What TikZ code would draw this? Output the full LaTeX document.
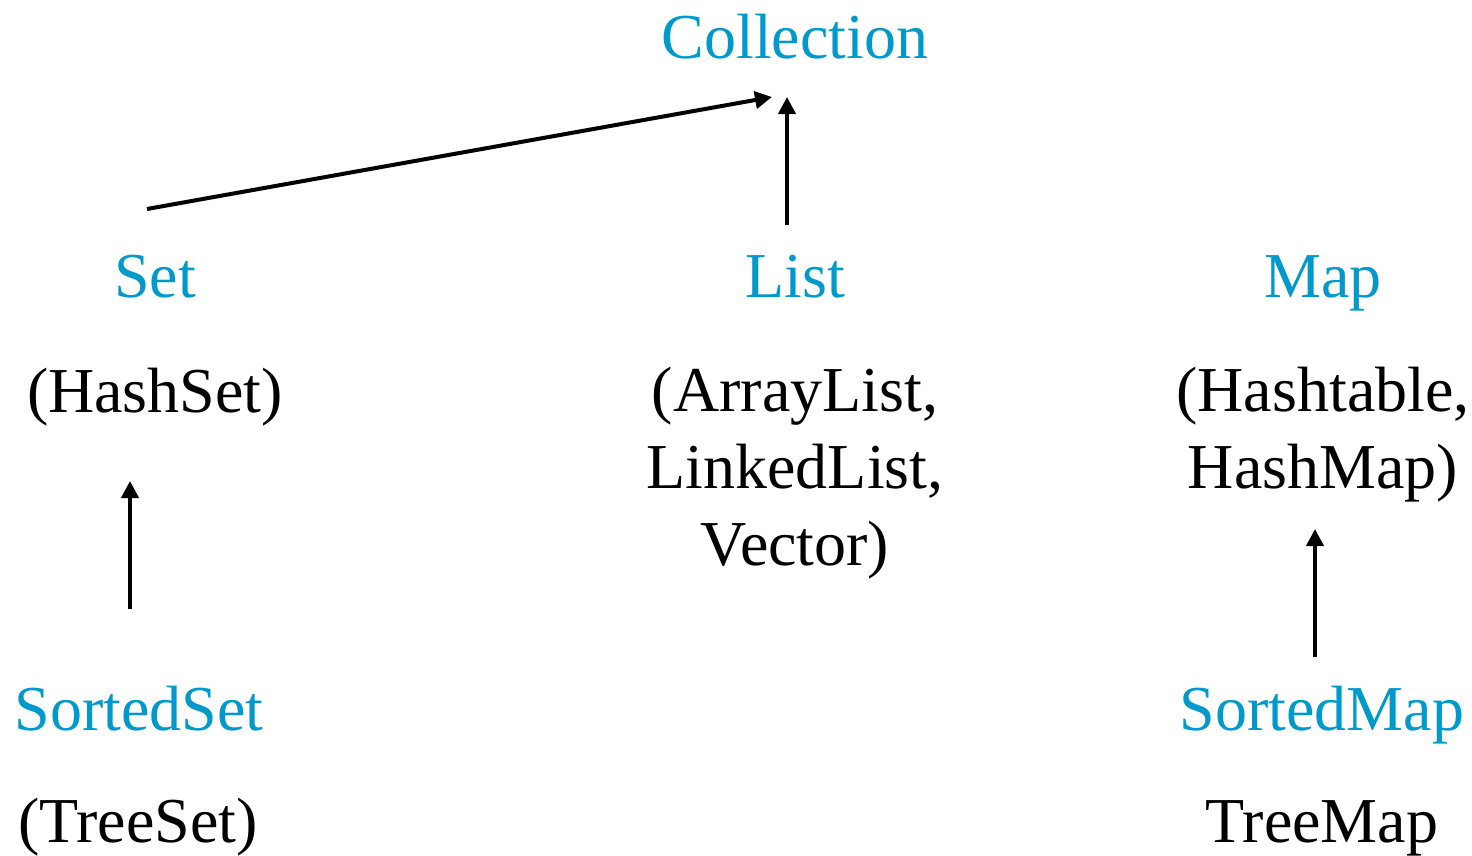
\documentclass[tikz,border=0pt]{standalone}
\usepackage{fontspec}
\setmainfont{Liberation Serif}
\usetikzlibrary{arrows.meta}
\definecolor{jblue}{RGB}{0,153,204}
\begin{document}
\begin{tikzpicture}[x=1pt,y=-1pt,
  lbl/.style={inner sep=0pt,anchor=base,font=\fontsize{64}{77}\selectfont},
  iface/.style={lbl,text=jblue},
  impl/.style={lbl,text=black,align=center},
  arr/.style={line width=4pt,-{Triangle[length=17pt,width=17pt]}}]
\useasboundingbox (0,0) rectangle (1472,855);
\node[iface] (coll) at (795,58) {Collection};
\node[iface] (set) at (155,297) {Set};
\node[iface] (list) at (795,297) {List};
\node[iface] (map) at (1323,297) {Map};
\node[impl] (hashset) at (155,412) {(HashSet)};
\node[impl] (lists) at (795,565) {(ArrayList,\\LinkedList,\\Vector)};
\node[impl] (maps) at (1323,488) {(Hashtable,\\HashMap)};
\node[iface] (sset) at (139,730) {SortedSet};
\node[impl] (tset) at (138,842) {(TreeSet)};
\node[iface] (smap) at (1322,730) {SortedMap};
\node[impl] (tmap) at (1322,842) {TreeMap};
\coordinate (setout) at (147,209);
\coordinate (collinL) at (772,97);
\coordinate (listout) at (787,225);
\coordinate (collinR) at (787,97);
\coordinate (ssetout) at (130,609);
\coordinate (hsetin) at (130,481);
\coordinate (smapout) at (1315,657);
\coordinate (mapsin) at (1315,529);
\draw[arr] (setout) -- (collinL);
\draw[arr] (listout) -- (collinR);
\draw[arr] (ssetout) -- (hsetin);
\draw[arr] (smapout) -- (mapsin);
\end{tikzpicture}
\end{document}
